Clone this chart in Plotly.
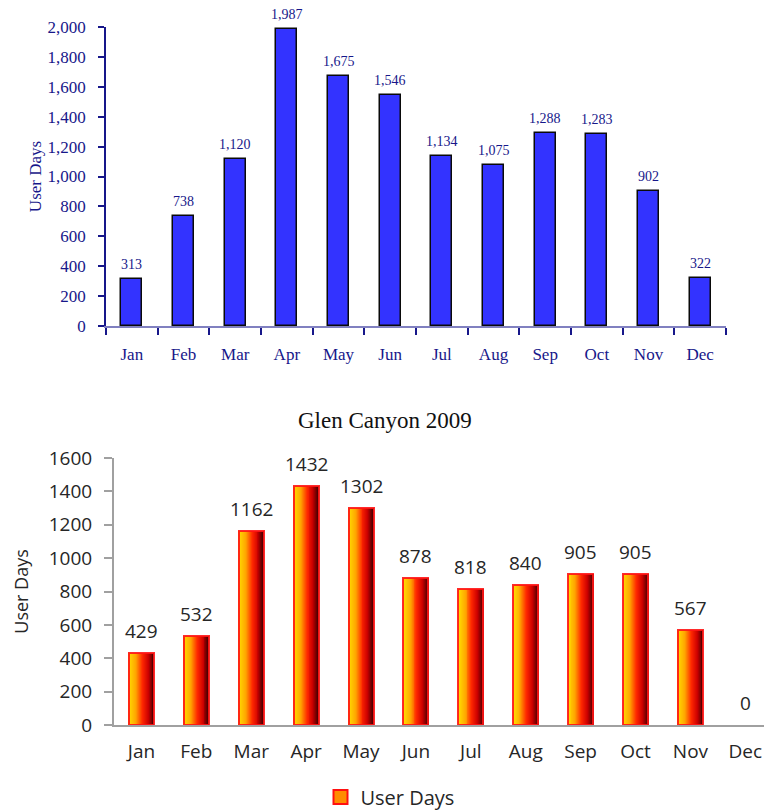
import plotly.graph_objects as go

months = ["Jan", "Feb", "Mar", "Apr", "May", "Jun", "Jul", "Aug", "Sep", "Oct", "Nov", "Dec"]
user_days_top = [313, 738, 1120, 1987, 1675, 1546, 1134, 1075, 1288, 1283, 902, 322]
user_days_2009 = [429, 532, 1162, 1432, 1302, 878, 818, 840, 905, 905, 567, 0]
title_2009 = "Glen Canyon 2009"
series_name = "User Days"

W, H = 764, 812


def px(x):
    return x / W


def py(y):
    return 1 - y / H


NAVY = "#17178A"
SERIF = "Liberation Serif"
SANS = "Open Sans"
DARK = "#262626"

fig = go.Figure()

# ---- top chart ----
fig.add_trace(go.Bar(
    x=months, y=user_days_top, xaxis="x", yaxis="y", width=0.41,
    marker=dict(color="#3333FF", line=dict(color="#0A0A0A", width=1.5)),
    showlegend=False, hoverinfo="skip",
))
for m, v in zip(months, user_days_top):
    fig.add_annotation(x=m, y=v, xref="x", yref="y", text=f"{v:,}", showarrow=False,
                       yanchor="bottom", yshift=5,
                       font=dict(family=SERIF, size=14, color=NAVY))

# ---- bottom chart: gradient bars built from slices ----
def lerp(c1, c2, t):
    return tuple(round(a + (b - a) * t) for a, b in zip(c1, c2))

stops = [(0.0, (255, 225, 0)), (0.3, (255, 165, 0)), (0.55, (255, 40, 0)),
         (0.78, (205, 0, 0)), (1.0, (70, 0, 0))]

def grad(t):
    for (t0, c0), (t1, c1) in zip(stops[:-1], stops[1:]):
        if t <= t1:
            return "rgb(%d,%d,%d)" % lerp(c0, c1, (t - t0) / (t1 - t0))
    return "rgb(%d,%d,%d)" % stops[-1][1]

BW = 0.455
N = 26
for i in range(N):
    fig.add_trace(go.Bar(
        x=months, y=user_days_2009, xaxis="x2", yaxis="y2",
        width=BW / N * 1.15, offset=-BW / 2 + i * BW / N,
        marker=dict(color=grad((i + 0.5) / N), line=dict(width=0)),
        showlegend=False, hoverinfo="skip",
    ))
fig.add_trace(go.Bar(
    x=months, y=user_days_2009, xaxis="x2", yaxis="y2", width=BW,
    marker=dict(color="rgba(0,0,0,0)",
                line=dict(color="rgba(255,20,20,0.9)",
                          width=[2 if v > 0 else 0 for v in user_days_2009])),
    showlegend=False, hoverinfo="skip",
))
fig.add_trace(go.Scatter(
    x=[None], y=[None], xaxis="x2", yaxis="y2", mode="markers", name=series_name,
    marker=dict(symbol="square", size=14, color="#FF8C00", line=dict(color="#FF1010", width=2)),
))
for m, v in zip(months, user_days_2009):
    fig.add_annotation(x=m, y=v, xref="x2", yref="y2", text=str(v), showarrow=False,
                       yanchor="bottom", yshift=7,
                       font=dict(family=SANS, size=19, color=DARK))

fig.add_annotation(x=px(385), y=py(420), xref="paper", yref="paper", text=title_2009,
                   showarrow=False, font=dict(family=SERIF, size=23, color="#111111"))

fig.update_layout(
    width=W, height=H, margin=dict(l=0, r=0, t=0, b=0, autoexpand=False),
    paper_bgcolor="white", plot_bgcolor="white", barmode="overlay", bargap=0,
    showlegend=True,
    legend=dict(orientation="h", x=px(390), xanchor="center", y=py(797), yanchor="middle",
                font=dict(family=SANS, size=20, color=DARK)),
    xaxis=dict(domain=[px(106), px(726)], anchor="y", type="category", automargin=False,
               range=[-0.5, 11.5], showline=True, linecolor="#8080C0", linewidth=2,
               ticks="outside", tickson="boundaries", ticklen=7, tickcolor=NAVY, tickwidth=1.5,
               ticklabelstandoff=12,
               tickfont=dict(family=SERIF, size=17, color=NAVY), showgrid=False, zeroline=False),
    yaxis=dict(domain=[py(326), py(27)], anchor="x", range=[0, 2000], automargin=False,
               tickvals=list(range(0, 2001, 200)), tickformat=",",
               showline=True, linecolor=NAVY, linewidth=1.5,
               ticks="outside", ticklen=6, tickcolor=NAVY, tickwidth=1.5, ticklabelstandoff=9,
               tickfont=dict(family=SERIF, size=17, color=NAVY), showgrid=False, zeroline=False,
               title=dict(text="User Days", standoff=2,
                          font=dict(family=SERIF, size=17, color=NAVY))),
    xaxis2=dict(domain=[px(114), 1.0], anchor="y2", type="category", automargin=False,
                range=[-0.5, 11.34], showline=True, linecolor="#A0A0A0", linewidth=2,
                ticks="", ticklabelstandoff=8,
                tickfont=dict(family=SANS, size=19, color=DARK), showgrid=False, zeroline=False),
    yaxis2=dict(domain=[py(725), py(458)], anchor="x2", range=[0, 1600], automargin=False,
                tickvals=list(range(0, 1601, 200)),
                showline=True, linecolor="#A0A0A0", linewidth=2,
                ticks="outside", ticklen=8, tickcolor="#A0A0A0", tickwidth=1.5, ticklabelstandoff=8,
                tickfont=dict(family=SANS, size=19, color=DARK), showgrid=False, zeroline=False,
                title=dict(text="User Days", standoff=15,
                           font=dict(family=SANS, size=18, color=DARK))),
)

fig.write_html("out.html", config={"displayModeBar": False},
               post_script="document.body.style.margin='0';document.body.style.overflow='hidden';")
